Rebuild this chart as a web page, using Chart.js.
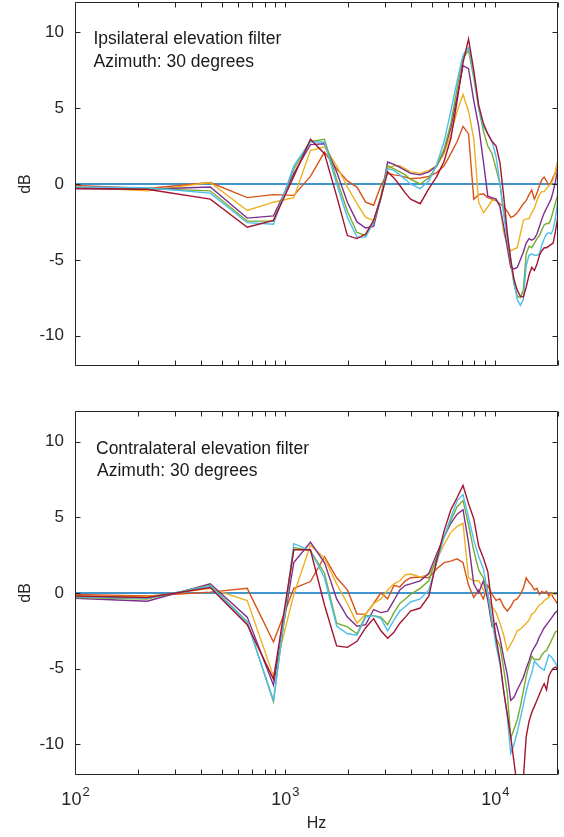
<!DOCTYPE html>
<html>
<head>
<meta charset="utf-8">
<script src="https://cdn.jsdelivr.net/npm/chart.js@4.4.0/dist/chart.umd.min.js"></script>
<style>
  html, body { margin: 0; padding: 0; background: #fff; }
  #wrap { position: relative; width: 564px; height: 837px; }
  #wrap canvas { position: absolute; left: 0; }
</style>
</head>
<body>
<div id="wrap">
  <canvas id="ipsi" width="564" height="395" style="top:0"></canvas>
  <canvas id="contra" width="564" height="442" style="top:395px"></canvas>
</div>
<script>
// frequency bins (Hz)
const hz = [100, 220.5, 441, 661.5, 882, 1102.5, 1323, 1543.5, 1764, 1984.5, 2205, 2425.5, 2646, 2866.5,
  3087, 3307.5, 3528, 3748.5, 3969, 4410, 4851, 5292, 5733, 6174, 6615, 7056, 7497, 7938, 8379, 8820,
  9261, 9702, 10143, 10584, 11025, 11466, 11907, 12348, 12789, 13230, 13671, 14112, 14553, 14994,
  15435, 15876, 16317, 16758, 17199, 17640, 18081, 18522, 18963, 19404, 19845, 20000];

// ipsilateral filters (dB), one per elevation
const ipsi1 = [-0.1, -0.3, 0.1, -0.9, -0.7, -0.75, 0.5, 2.1, 1.0, 0.2, -0.2, -1.2, -1.4, -0.1,
  0.7, 0.6, 0.55, 0.45, 0.35, 0.4, 0.5, 0.75, 1.2, 2.0, 2.8, 3.8, 3.3, -1.0, -0.7, -0.65,
  -0.9, -1.0, -1.1, -1.3, -1.5, -1.8, -2.2, -2.1, -1.9, -1.6, -1.3, -1.1, -0.7, -0.4,
  -1.0, -0.6, -0.1, 0.3, 0.45, 0.2, -0.1, 0.1, 0.45, 0.7, 1.3, 1.5];
const ipsi2 = [-0.2, -0.45, 0.1, -1.75, -1.2, -0.9, 2.2, 2.45, 1.2, -0.2, -1.3, -2.2, -2.4, -1.0,
  1.0, 1.2, 1.2, 1.0, 0.8, 0.7, 0.9, 1.2, 2.0, 3.3, 4.8, 5.9, 4.8, 3.0, -1.2, -1.9,
  -1.5, -1.1, -1.0, -1.5, -3.2, -4.0, -4.4, -4.3, -4.2, -3.3, -2.4, -2.3, -2.3, -1.9,
  -1.6, -1.1, -0.7, -0.5, -0.5, -0.3, -0.1, 0.0, 0.3, 0.8, 1.4, 1.6];
const ipsi3 = [-0.3, -0.35, -0.2, -2.25, -2.1, 0.7, 2.6, 2.65, 0.8, -1.2, -2.5, -2.9, -2.8, -0.9,
  1.45, 1.3, 1.1, 0.9, 0.7, 0.6, 0.8, 1.2, 2.2, 3.7, 5.8, 7.8, 7.6, 5.5, 3.8, 1.5,
  -0.8, -0.9, -1.0, -1.5, -2.8, -4.2, -5.5, -5.6, -5.5, -5.0, -4.5, -3.9, -3.6, -3.7,
  -3.6, -3.3, -2.8, -2.3, -1.9, -1.6, -1.3, -1.0, -0.5, 0.1, 0.8, 1.1];
const ipsi4 = [-0.25, -0.3, -0.45, -2.45, -2.45, 1.0, 2.8, 2.95, 0.3, -1.8, -3.2, -3.4, -2.5, -0.8,
  1.2, 1.0, 0.8, 0.6, 0.3, 0.0, 0.4, 1.2, 2.3, 4.0, 6.3, 8.3, 8.8, 7.0, 5.0, 3.5,
  2.5, 2.0, 1.0, 0.0, -1.8, -3.6, -5.2, -6.6, -7.4, -7.5, -7.0, -4.6, -4.1, -4.2,
  -3.9, -3.6, -3.4, -3.0, -2.7, -2.6, -2.6, -2.3, -1.8, -1.3, -0.8, -0.6];
const ipsi5 = [-0.2, -0.25, -0.6, -2.55, -2.65, 1.2, 2.8, 2.75, 0.0, -2.2, -3.5, -3.5, -2.5, -0.9,
  1.0, 0.9, 0.6, 0.3, 0.0, -0.3, 0.2, 1.3, 2.8, 4.8, 6.8, 8.5, 9.0, 7.3, 5.0, 3.8,
  3.3, 2.8, 1.8, 0.0, -2.0, -3.5, -4.9, -6.5, -7.6, -8.0, -7.6, -5.4, -4.7, -4.6,
  -4.7, -4.7, -4.6, -4.0, -3.6, -3.3, -3.2, -3.3, -3.0, -2.3, -1.4, -1.1];
const ipsi6 = [-0.3, -0.35, -1.0, -2.85, -2.4, 0.5, 2.95, 2.0, -0.8, -3.4, -3.6, -3.3, -2.4, -0.9,
  0.8, 0.4, -0.1, -0.6, -1.0, -1.3, -0.3, 0.5, 1.5, 3.0, 5.5, 8.0, 9.55, 7.5, 5.2, 4.0,
  3.3, 2.8, 2.5, 1.4, -0.8, -3.2, -5.0, -6.3, -7.0, -7.4, -7.45, -6.8, -6.0, -5.5,
  -5.7, -5.3, -4.7, -4.4, -4.2, -4.2, -4.1, -4.0, -3.9, -3.2, -2.4, -2.0];

// contralateral filters (dB)
const contra1 = [-0.1, -0.2, 0.05, 0.3, -3.25, 0.3, 0.75, 2.4, 1.0, 0.2, -1.4, -1.4, -0.7, 0.0,
  -0.4, 0.5, 0.4, 0.8, 1.0, 1.05, 1.0, 1.6, 2.0, 2.1, 2.25, 2.0, 0.5, -0.3, 0.2, -0.4,
  0.5, -0.1, -0.5, -0.4, -0.9, -1.2, -0.9, -0.5, -0.4, -0.1, 0.3, 1.0, 0.7, 0.5,
  0.2, 0.3, -0.1, 0.1, 0.0, 0.1, -0.2, 0.0, -0.3, -0.5, -0.7, -0.6];
const contra2 = [-0.2, -0.25, 0.3, -0.5, -5.5, -0.1, 3.15, 2.3, 0.6, -0.7, -2.0, -1.4, -0.7, -0.4,
  0.2, 0.6, 0.8, 1.2, 1.25, 1.05, 1.2, 2.2, 3.2, 4.0, 4.4, 4.6, 1.0, 0.8, 0.8, 0.2,
  -0.3, -0.9, -1.3, -2.0, -2.8, -3.8, -3.4, -3.0, -2.5, -2.4, -2.2, -2.0, -1.8, -1.4,
  -1.3, -1.0, -0.8, -0.7, -0.5, -0.4, -0.3, -0.1, 0.0, -0.1, 0.0, 0.0];
const contra3 = [-0.35, -0.55, 0.6, -1.6, -6.1, 2.0, 3.35, 2.0, -0.4, -1.6, -2.2, -2.1, -1.1, -1.3,
  -1.2, -0.5, 0.2, 0.5, 0.6, 0.8, 1.3, 2.6, 3.7, 4.6, 5.2, 5.5, 3.3, 0.6, 0.0, 0.8,
  -0.5, -2.2, -2.0, -3.0, -4.3, -5.4, -7.1, -6.9, -6.4, -6.0, -5.6, -5.0, -4.5, -3.9,
  -3.6, -3.3, -2.9, -2.6, -2.3, -2.1, -1.9, -1.7, -1.5, -1.3, -1.2, -1.1];
const contra4 = [-0.3, -0.4, 0.5, -1.9, -7.2, 3.0, 2.8, 1.3, -2.0, -2.25, -2.7, -1.5, -1.5, -1.6,
  -2.1, -1.3, -0.7, -0.4, -0.1, 0.3, 0.8, 2.4, 3.7, 4.8, 5.7, 6.1, 4.5, 2.8, 1.5, 1.0,
  0.0, -2.0, -3.0, -3.5, -5.0, -6.6, -9.6, -9.0, -8.4, -7.5, -6.5, -5.5, -4.8, -4.2,
  -4.4, -4.4, -4.4, -4.1, -3.9, -3.8, -3.5, -3.2, -2.9, -2.6, -2.5, -2.5];
const contra5 = [-0.25, -0.35, 0.45, -1.95, -7.1, 3.25, 2.8, 1.0, -2.2, -2.7, -2.8, -1.6, -1.5, -1.7,
  -2.5, -1.8, -1.2, -0.9, -0.6, -0.4, 0.2, 2.0, 3.7, 5.0, 6.1, 6.5, 5.0, 3.5, 2.4, 1.6,
  0.0, -1.8, -3.5, -4.7, -6.5, -8.2, -10.6, -10.0, -9.2, -8.3, -7.4, -6.5, -5.8, -5.3,
  -4.5, -4.7, -4.9, -5.0, -5.1, -4.6, -4.1, -4.2, -4.4, -4.6, -4.9, -5.0];
const contra6 = [-0.2, -0.3, 0.35, -2.1, -5.7, 2.85, 2.85, -0.8, -3.5, -3.6, -3.2, -2.3, -1.7, -2.5,
  -3.0, -2.6, -2.0, -1.6, -1.2, -1.0, -0.2, 2.2, 4.1, 5.5, 6.3, 7.1, 5.9, 4.9, 3.1, 2.3,
  1.4, -1.0, -3.0, -4.5, -6.5, -8.0, -9.5, -11.2, -12.8, -13.5, -12.3, -9.5, -8.5, -7.9,
  -7.5, -7.1, -6.7, -6.3, -6.0, -6.4, -5.5, -5.2, -5.0, -4.9, -5.0, -5.1];

// 0 dB reference line
const refHz = [100, 20000];
const refDb = [0, 0];

const yTickDb = [-10, -5, 0, 5, 10];
const xTickHz = [100, 200, 300, 400, 500, 600, 700, 800, 900, 1000, 2000, 3000, 4000, 5000,
  6000, 7000, 8000, 9000, 10000, 20000];
const xLabelHz = [100, 1000, 10000];
const xLabelExp = ['2', '3', '4'];
const ipsiNote = ['Ipsilateral elevation filter', 'Azimuth: 30 degrees'];
const contraNote = ['Contralateral elevation filter', 'Azimuth: 30 degrees'];

const lineColors = ['#D95319', '#EDB120', '#7E2F8E', '#77AC30', '#4DBEEE', '#A2142F'];
const FONT = '"Liberation Sans", Arial, Helvetica, sans-serif';
const INK = '#262626';

function points(xs, ys) {
  return xs.map((x, i) => ({ x: x, y: ys[i] }));
}

function datasets(series) {
  const sets = [{ data: points(refHz, refDb), borderColor: '#0072BD', borderWidth: 1.5, order: 7 }];
  series.forEach((s, i) => {
    sets.push({ data: points(hz, s), borderColor: lineColors[i], borderWidth: 1.4, order: 6 - i });
  });
  return sets;
}

// matlab-style box with inward ticks, plus the text notes
const axesBox = {
  id: 'axesBox',
  afterDraw(chart, args, opts) {
    const ctx = chart.ctx, a = chart.chartArea;
    const x = chart.scales.x, y = chart.scales.y;
    const L = Math.round(a.left) + 0.5, R = Math.round(a.right) - 0.5;
    const T = Math.round(a.top) + 0.5, B = Math.round(a.bottom) - 0.5;
    ctx.save();
    ctx.strokeStyle = INK;
    ctx.lineWidth = 1;
    ctx.beginPath();
    ctx.rect(L, T, R - L, B - T);
    yTickDb.forEach(v => {
      const p = Math.round(y.getPixelForValue(v)) + 0.5;
      ctx.moveTo(L, p); ctx.lineTo(L + 5, p);
      ctx.moveTo(R, p); ctx.lineTo(R - 5, p);
    });
    xTickHz.forEach(v => {
      const p = Math.round(x.getPixelForValue(v)) + 0.5;
      ctx.moveTo(p, B); ctx.lineTo(p, B - 5);
      ctx.moveTo(p, T); ctx.lineTo(p, T + 5);
    });
    ctx.stroke();

    ctx.fillStyle = '#1a1a1a';
    ctx.font = '17.5px ' + FONT;
    opts.note.forEach((s, i) => ctx.fillText(s, a.left + opts.dx[i], a.top + 42.3 + 22.5 * i));

    if (opts.expLabels) {
      ctx.fillStyle = INK;
      xLabelHz.forEach((v, i) => {
        const p = x.getPixelForValue(v);
        ctx.font = '18px ' + FONT;
        const w1 = ctx.measureText('10').width;
        ctx.font = '13px ' + FONT;
        const w2 = ctx.measureText(xLabelExp[i]).width;
        const left = p - (w1 + w2) / 2;
        ctx.font = '18px ' + FONT;
        ctx.fillText('10', left, a.bottom + 30);
        ctx.font = '13px ' + FONT;
        ctx.fillText(xLabelExp[i], left + w1 + 1, a.bottom + 21);
      });
    }
    ctx.restore();
  }
};

function build(id, series, note, bottomAxis) {
  return new Chart(document.getElementById(id), {
    type: 'line',
    data: { datasets: datasets(series) },
    options: {
      responsive: false,
      animation: false,
      layout: { padding: { left: 0, right: 6, top: bottomAxis ? 16.3 : 2, bottom: 0 } },
      elements: { point: { radius: 0 }, line: { tension: 0, fill: false } },
      plugins: {
        legend: { display: false },
        tooltip: { enabled: false },
        axesBox: { note: note, expLabels: bottomAxis, dx: bottomAxis ? [21, 22] : [18.5, 18.5] }
      },
      scales: {
        x: {
          type: 'logarithmic', min: 100, max: 20000,
          grid: { display: false, drawTicks: false }, border: { display: false },
          ticks: { display: false },
          afterBuildTicks: s => { s.ticks = xTickHz.map(v => ({ value: v })); },
          afterFit: s => { s.height = bottomAxis ? 62.5 : 29; s.paddingLeft = 0; s.paddingRight = 0; },
          title: { display: bottomAxis, text: 'Hz', color: INK, font: { family: FONT, size: 16 }, padding: { top: 0, bottom: 4 } }
        },
        y: {
          min: -12, max: 12,
          grid: { display: false, drawTicks: false }, border: { display: false },
          afterBuildTicks: s => { s.ticks = yTickDb.map(v => ({ value: v })); },
          ticks: { color: INK, font: { family: FONT, size: 17 }, padding: 11, callback: v => String(v) },
          afterFit: s => { s.width = 75; s.paddingTop = 0; s.paddingBottom = 0; },
          title: { display: true, text: 'dB', color: INK, font: { family: FONT, size: 16 }, padding: { top: 16, bottom: 0 } }
        }
      }
    },
    plugins: [axesBox]
  });
}

build('ipsi', [ipsi1, ipsi2, ipsi3, ipsi4, ipsi5, ipsi6], ipsiNote, false);
build('contra', [contra1, contra2, contra3, contra4, contra5, contra6], contraNote, true);
</script>
</body>
</html>
